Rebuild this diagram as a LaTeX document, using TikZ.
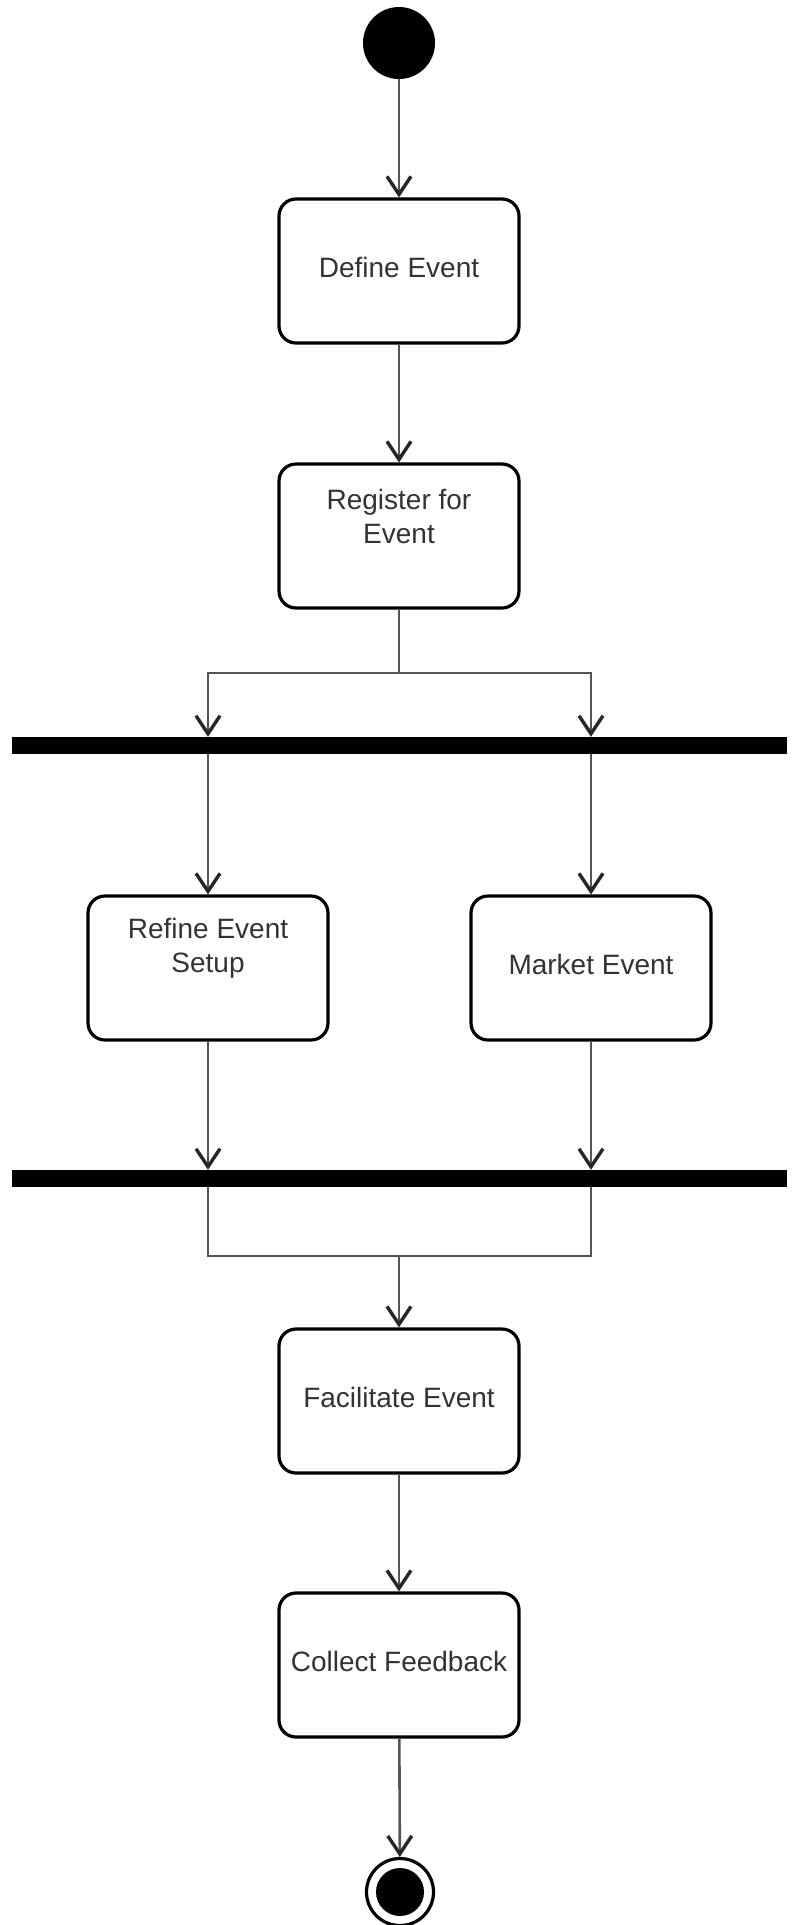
\documentclass[tikz,border=0pt]{standalone}
\usepackage{fontspec}
\setmainfont{Liberation Sans}
\usetikzlibrary{arrows.meta}
\definecolor{txt}{HTML}{333333}
\definecolor{ln}{HTML}{555555}
\begin{document}
\begin{tikzpicture}[x=1pt,y=-1pt,
  actbox/.style={draw=black, line width=3.2pt, rounded corners=17pt, fill=white,
    minimum width=240pt, minimum height=144pt, inner sep=0pt, text depth=7pt,
    font=\fontsize{28}{34}\selectfont, text=txt, align=center},
  boxlabel/.style={font=\fontsize{28}{34}\selectfont, text=txt, align=center, yshift=20pt},
  bar/.style={fill=black, draw=none, minimum width=775pt, minimum height=17pt, inner sep=0pt},
  flow/.style={draw=ln, line width=2.6pt, -{Straight Barb[length=18pt,width=24pt,line width=3.4pt,color=black!85]}},
  plain/.style={draw=ln, line width=2.6pt}]
\useasboundingbox[fill=white] (0,0) rectangle (792,1925);

\node[circle, fill=black, minimum size=72pt, inner sep=0pt] (start) at (399,43) {};
\node[actbox] (define) at (399,271) {Define Event};
\node[actbox, label={[boxlabel]center:{Register for\\Event}}] (register) at (399,536) {};
\node[bar] (fork) at (399.5,745.5) {};
\node[actbox, label={[boxlabel]center:{Refine Event\\Setup}}] (refine) at (208,968) {};
\node[actbox] (market) at (591,968) {Market Event};
\node[bar] (join) at (399.5,1178.5) {};
\node[actbox] (facilitate) at (399,1401) {Facilitate Event};
\node[actbox] (collect) at (399,1665) {Collect Feedback};
\node[circle, draw=black, line width=3.2pt, minimum size=67pt, inner sep=0pt] (end) at (400,1892) {};
\fill[black] (end.center) circle (24pt);

\coordinate (split) at (399,673);
\coordinate (merge) at (399,1256);

\draw[flow] (start) -- (define);
\draw[flow] (define) -- (register);
\draw[plain] (register) -- (split);
\draw[flow] (split) -| (fork.north -| refine.north);
\draw[flow] (split) -| (fork.north -| market.north);
\draw[flow] (fork.south -| refine.north) -- (refine);
\draw[flow] (fork.south -| market.north) -- (market);
\draw[flow] (refine) -- (join.north -| refine.south);
\draw[flow] (market) -- (join.north -| market.south);
\draw[plain] (join.south -| refine.south) |- (merge) -| (join.south -| market.south);
\draw[flow] (merge) -- (facilitate);
\draw[flow] (facilitate) -- (collect);
\draw[flow] (collect) -- (end);
\end{tikzpicture}
\end{document}
